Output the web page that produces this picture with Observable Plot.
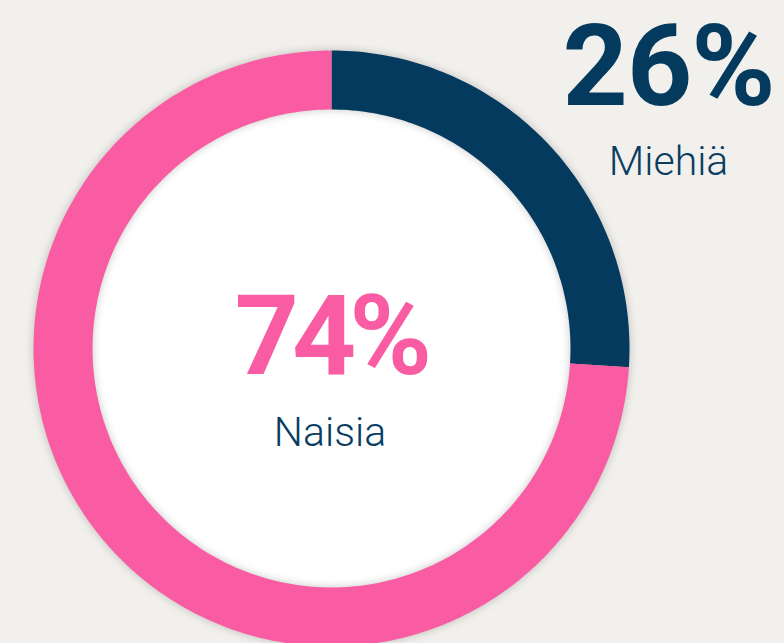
<!DOCTYPE html>
<html>
<head>
<meta charset="utf-8">
<script src="https://cdn.jsdelivr.net/npm/d3@7"></script>
<script src="https://cdn.jsdelivr.net/npm/@observablehq/plot@0.6"></script>
<style>
  html, body { margin: 0; padding: 0; background: #f2f0ec; }
  #chart { width: 784px; height: 643px; overflow: hidden; }
  .ring { filter: drop-shadow(0 0 4px rgba(0,0,0,0.22)); }
  .pctA text { letter-spacing: -1px; }
  .pctB text { letter-spacing: -7px; }
</style>
</head>
<body>
<div id="chart"></div>
<script>
// ---- data ----
const categories = ["Miehiä", "Naisia"];
const shares = [26, 74];
const shareLabels = ["26%", "74%"];
const colors = ["#033a5e", "#f95ca2"];

// ---- layout (unit radius = outer edge of ring) ----
const W = 784, H = 643;
const cx = 331, cy = 348, R = 298;   // pixel center & outer radius
const innerFrac = 239 / 298;

// build ring segments (clockwise from 12 o'clock)
const total = d3.sum(shares);
const ringPts = [];
let acc = 0;
categories.forEach((c, i) => {
  const a0 = acc / total * 2 * Math.PI;
  acc += shares[i];
  const a1 = acc / total * 2 * Math.PI;
  const n = Math.max(8, Math.ceil((a1 - a0) / (Math.PI / 180)));
  for (let k = 0; k <= n; k++) {
    const a = a0 + (a1 - a0) * k / n;
    ringPts.push({cat: c, x: Math.sin(a), y: Math.cos(a)});
  }
  for (let k = n; k >= 0; k--) {
    const a = a0 + (a1 - a0) * k / n;
    ringPts.push({cat: c, x: innerFrac * Math.sin(a), y: innerFrac * Math.cos(a)});
  }
});
const disc = d3.range(0, 361, 2).map(d => {
  const a = d * Math.PI / 180;
  return {x: innerFrac * Math.sin(a), y: innerFrac * Math.cos(a)};
});

const labelData = [
  {cat: categories[0], pct: shareLabels[0], x: 1.131, yPct: 0.94, yLab: 0.625, color: colors[0]},
  {cat: categories[1], pct: shareLabels[1], x: -0.005, yPct: 0.034, yLab: -0.283, color: colors[1]}
];

const font = "Roboto, 'Open Sans', sans-serif";

const chart = Plot.plot({
  width: W, height: H,
  margin: 0,
  style: {background: "transparent", overflow: "visible"},
  x: {domain: [-cx / R, (W - cx) / R], axis: null},
  y: {domain: [-(H - cy) / R, cy / R], axis: null},
  color: {domain: categories, range: colors},
  marks: [
    Plot.line(disc, {x: "x", y: "y", fill: "#ffffff", stroke: "none", curve: "linear-closed"}),
    Plot.line(ringPts, {x: "x", y: "y", z: "cat", fill: "cat", stroke: "none", curve: "linear-closed", className: "ring"}),
    Plot.text(labelData.slice(0, 1), {x: "x", y: "yPct", text: "pct", fill: "color", fontSize: 114, fontWeight: 700, fontFamily: font, className: "pctA"}),
    Plot.text(labelData.slice(1), {x: "x", y: "yPct", text: "pct", fill: "color", fontSize: 112, fontWeight: 700, fontFamily: font, className: "pctB"}),
    Plot.text(labelData, {x: "x", y: "yLab", text: "cat", fill: "#0a3d62", fontSize: 41, fontWeight: 300, fontFamily: font})
  ]
});
document.getElementById("chart").appendChild(chart);
</script>
</body>
</html>
